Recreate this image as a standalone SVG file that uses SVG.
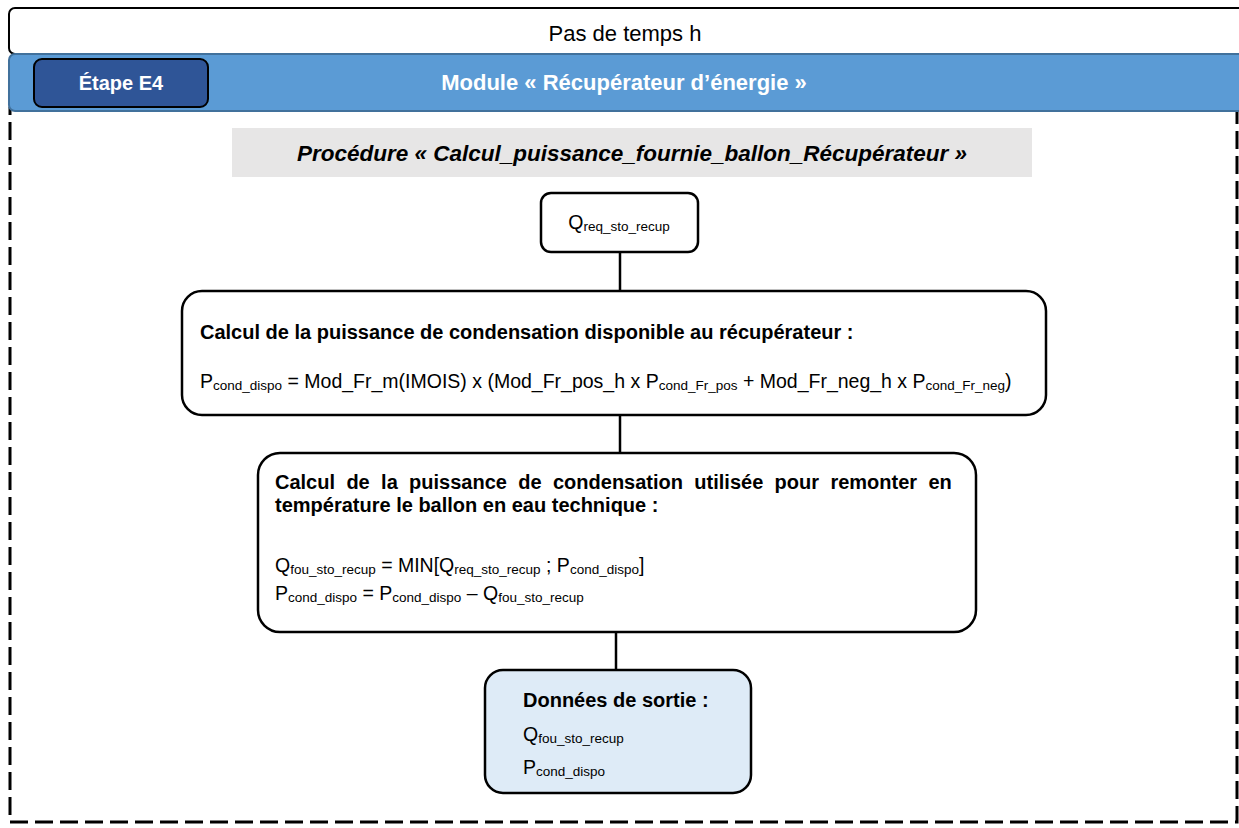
<svg xmlns="http://www.w3.org/2000/svg" width="1239" height="828" viewBox="0 0 1239 828">
<style>
text{font-family:"Liberation Sans",Arial,sans-serif;fill:#000}
.node{fill:#fff;stroke:#000;stroke-width:2.5}
.b{font-weight:bold;font-size:20px}
.f{font-size:19.5px}
.s{font-size:13.5px}
.conn{stroke:#000;stroke-width:2.5;fill:none}
</style>
<g id="top">
<rect x="9" y="8" width="1236" height="46" rx="6" fill="#fff" stroke="#000" stroke-width="2"/>
<text x="625" y="41" text-anchor="middle" font-size="22">Pas de temps h</text>
</g>
<g id="frame">
<rect x="10" y="108" width="1227" height="714" fill="none" stroke="#000" stroke-width="3" stroke-dasharray="18 7"/>
</g>
<g id="module">
<rect x="9" y="54" width="1236" height="57" rx="6" fill="#5B9BD5" stroke="#41719C" stroke-width="2"/>
<text x="624" y="90" text-anchor="middle" font-size="22" font-weight="bold" style="fill:#fff">Module « Récupérateur d’énergie »</text>
</g>
<g id="etape">
<rect x="34" y="59" width="174" height="48" rx="8" fill="#2F5597" stroke="#000" stroke-width="2"/>
<text x="121" y="90" text-anchor="middle" font-size="20" font-weight="bold" style="fill:#fff">Étape E4</text>
</g>
<g id="procedure">
<rect x="232" y="128" width="800" height="49" fill="#E7E6E6"/>
<text x="632" y="161" text-anchor="middle" font-size="22.5" font-weight="bold" font-style="italic">Procédure « Calcul_puissance_fournie_ballon_Récupérateur »</text>
</g>
<g id="connectors">
<line class="conn" x1="620" y1="252" x2="620" y2="291"/>
<line class="conn" x1="620" y1="415" x2="620" y2="453"/>
<line class="conn" x1="616" y1="632" x2="616" y2="670"/>
</g>
<g id="qreq">
<rect class="node" x="541" y="193" width="157" height="59" rx="10"/>
<text x="619" y="229" text-anchor="middle" class="f">Q<tspan class="s" dy="2">req_sto_recup</tspan></text>
</g>
<g id="calc1">
<rect class="node" x="182" y="291" width="864" height="124" rx="20"/>
<text x="200" y="339" class="b">Calcul de la puissance de condensation disponible au récupérateur :</text>
<text x="200" y="388" class="f">P<tspan class="s" dy="2">cond_dispo</tspan><tspan dy="-2"> = Mod_Fr_m(IMOIS) x (Mod_Fr_pos_h x P</tspan><tspan class="s" dy="2">cond_Fr_pos</tspan><tspan dy="-2"> + Mod_Fr_neg_h x P</tspan><tspan class="s" dy="2">cond_Fr_neg</tspan><tspan dy="-2">)</tspan></text>
</g>
<g id="calc2">
<rect class="node" x="258" y="453" width="718" height="179" rx="22"/>
<text x="275" y="489" class="b" word-spacing="5.8">Calcul de la puissance de condensation utilisée pour remonter en</text>
<text x="275" y="512" class="b">température le ballon en eau technique :</text>
<text x="275" y="572" class="f">Q<tspan class="s" dy="2">fou_sto_recup</tspan><tspan dy="-2"> = MIN[Q</tspan><tspan class="s" dy="2">req_sto_recup</tspan><tspan dy="-2"> ; P</tspan><tspan class="s" dy="2">cond_dispo</tspan><tspan dy="-2">]</tspan></text>
<text x="275" y="600" class="f">P<tspan class="s" dy="2">cond_dispo</tspan><tspan dy="-2"> = P</tspan><tspan class="s" dy="2">cond_dispo</tspan><tspan dy="-2"> – Q</tspan><tspan class="s" dy="2">fou_sto_recup</tspan></text>
</g>
<g id="sortie">
<rect x="485" y="670" width="266" height="123" rx="18" fill="#DEEBF7" stroke="#000" stroke-width="2.5"/>
<text x="523" y="707" class="b">Données de sortie :</text>
<text x="523" y="741" class="f">Q<tspan class="s" dy="2">fou_sto_recup</tspan></text>
<text x="523" y="774" class="f">P<tspan class="s" dy="2">cond_dispo</tspan></text>
</g>
</svg>
